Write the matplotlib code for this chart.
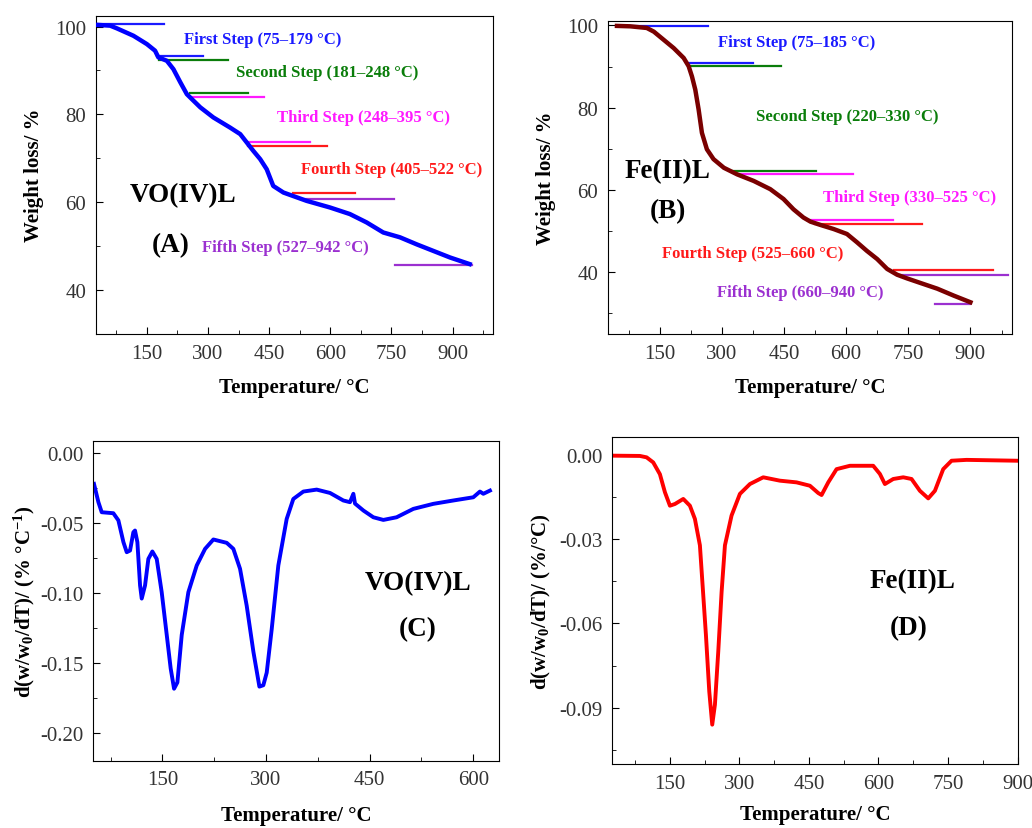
import matplotlib
matplotlib.use("Agg")
import matplotlib.pyplot as plt
from matplotlib.ticker import MultipleLocator, FormatStrFormatter

plt.rcParams['font.family'] = ['Liberation Serif', 'DejaVu Serif']
plt.rcParams['mathtext.default'] = 'regular'

# ---- data ----
# (A) VO(IV)L TGA
tA = [25, 60, 76, 117, 150, 170, 178, 199, 215, 232, 248, 260, 281, 313, 354, 379, 395,
      411, 428, 444, 460, 485, 509, 542, 599, 648, 689, 730, 771, 812, 853, 894, 942]
wA = [100.4, 100.2, 99.6, 97.9, 96.0, 94.5, 93.0, 92.2, 90.3, 87.3, 84.6, 83.5, 81.6, 79.3,
      77.0, 75.5, 73.6, 71.7, 69.8, 67.5, 63.7, 62.2, 61.4, 60.3, 58.8, 57.3, 55.4, 53.1,
      52.0, 50.4, 48.9, 47.4, 45.9]
# step marker lines: (x0, x1, y, colour index)
stepsA = [(25, 192, 100.6, 0), (175, 287, 93.2, 0),
          (179, 348, 92.4, 1), (256, 398, 84.9, 1),
          (256, 438, 83.9, 2), (395, 549, 73.8, 2),
          (399, 593, 72.8, 3), (509, 661, 62.1, 3),
          (530, 757, 60.8, 4), (759, 947, 45.8, 4)]
labelsA = ["First Step (75–179 °C)", "Second Step (181–248 °C)", "Third Step (248–395 °C)",
           "Fourth Step (405–522 °C)", "Fifth Step (527–942 °C)"]
labposA = [(240, 97.2), (369, 89.6), (469, 79.5), (527, 67.5), (286, 49.7)]

# (B) Fe(II)L TGA
tB = [47, 79, 119, 136, 160, 184, 208, 220, 228, 236, 244, 252, 264, 280, 305, 337, 377,
      417, 449, 473, 497, 514, 538, 570, 602, 626, 650, 675, 699, 723, 747, 779, 820, 860, 900]
wB = [99.9, 99.8, 99.4, 98.5, 96.5, 94.5, 92.1, 90.1, 87.6, 84.4, 79.6, 73.9, 69.9, 67.5,
      65.4, 63.8, 62.2, 60.2, 57.8, 55.3, 53.3, 52.3, 51.5, 50.5, 49.3, 47.3, 45.2, 43.2,
      40.8, 39.4, 38.5, 37.4, 36.0, 34.3, 32.7]
stepsB = [(79, 267, 99.8, 0), (216, 375, 90.9, 0),
          (220, 443, 90.1, 1), (325, 528, 64.6, 1),
          (341, 617, 63.9, 2), (506, 713, 52.8, 2),
          (526, 784, 51.7, 3), (715, 954, 40.6, 3),
          (723, 990, 39.4, 4), (815, 900, 32.3, 4)]
labelsB = ["First Step (75–185 °C)", "Second Step (220–330 °C)", "Third Step (330–525 °C)",
           "Fourth Step (525–660 °C)", "Fifth Step (660–940 °C)"]
labposB = [(291, 95.9), (383, 78.0), (544, 58.2), (156, 44.6), (288, 35.2)]

# (C) VO(IV)L DTG
tC = [51, 57.4, 62.2, 79, 86.3, 93.6, 98.4, 103.2, 108, 110.4, 113.8, 117.7, 120.1, 124.9,
      129.7, 135.5, 141.8, 149, 156.3, 162, 166.9, 171.7, 178, 187.6, 199.7, 211.8, 223.8,
      243.1, 252.7, 262.4, 272, 281.7, 290.4, 296.1, 301, 308.2, 317.8, 329.9, 339.5, 354,
      373.3, 392.6, 411.9, 421.5, 426.4, 428.8, 441, 455.3, 469.8, 489, 513.2, 542.1, 571,
      600, 609.6, 614.5, 624.1]
dC = [-0.0219, -0.035, -0.0422, -0.0429, -0.048, -0.0636, -0.0708, -0.0696, -0.0565, -0.0553,
      -0.0636, -0.0946, -0.104, -0.0946, -0.0756, -0.0703, -0.0756, -0.0994, -0.130, -0.154,
      -0.1685, -0.164, -0.130, -0.0994, -0.0803, -0.0684, -0.0617, -0.0641, -0.0684, -0.0827,
      -0.109, -0.142, -0.167, -0.166, -0.157, -0.126, -0.0803, -0.047, -0.0327, -0.0274,
      -0.026, -0.0284, -0.0338, -0.035, -0.029, -0.036, -0.041, -0.0458, -0.0477, -0.0458,
      -0.0398, -0.0362, -0.0338, -0.0315, -0.0274, -0.029, -0.0267]

# (D) Fe(II)L DTG
tD = [25.6, 85.3, 99.7, 114, 128.4, 139.2, 150, 160.8, 178.8, 193.1, 203.9, 214.7, 220.5,
      227.7, 234.9, 241.3, 247.1, 254.3, 261.5, 268.7, 283, 301, 322.6, 351.3, 387.3, 423.2,
      452, 470, 477.2, 491.6, 509.5, 538.3, 588.6, 603, 613.8, 631.8, 653.4, 671.3, 689.3,
      707.3, 721.7, 739.6, 757.6, 790, 897.5]
dD = [-0.0003, -0.0004, -0.0009, -0.0027, -0.0069, -0.0133, -0.0181, -0.0175, -0.0157,
      -0.0181, -0.0228, -0.0322, -0.0464, -0.0641, -0.0842, -0.096, -0.0889, -0.070, -0.0488,
      -0.0322, -0.0216, -0.0139, -0.0104, -0.008, -0.0092, -0.0098, -0.011, -0.0136, -0.0143,
      -0.0098, -0.0051, -0.0039, -0.0039, -0.0068, -0.0104, -0.0086, -0.008, -0.0086,
      -0.0128, -0.0155, -0.0128, -0.0051, -0.0021, -0.0018, -0.0021]

step_colors = ['#1a1aff', '#0a7d0a', '#ff1aff', '#ff1a1a', '#9b30d0']

fig = plt.figure(figsize=(10.32, 8.29), dpi=100)
axA = fig.add_axes([0.093, 0.596, 0.385, 0.384])
axB = fig.add_axes([0.589, 0.596, 0.3915, 0.377])
axC = fig.add_axes([0.0904, 0.0812, 0.393, 0.386])
axD = fig.add_axes([0.593, 0.0772, 0.393, 0.395])

def style(ax, xmaj, ymaj, xpad=10):
    ax.xaxis.set_major_locator(MultipleLocator(xmaj))
    ax.xaxis.set_minor_locator(MultipleLocator(xmaj / 2))
    ax.yaxis.set_major_locator(MultipleLocator(ymaj))
    ax.yaxis.set_minor_locator(MultipleLocator(ymaj / 2))
    ax.tick_params(which='both', direction='in', top=False, right=False, colors='black',
                   labelcolor='#333333', labelsize=15, pad=7)
    ax.tick_params(which='major', length=5)
    ax.tick_params(which='minor', length=3)
    ax.set_xlabel("Temperature/ °C", fontsize=15, fontweight='bold', labelpad=xpad)

# A
axA.plot(tA, wA, color='#0000ff', lw=3.2, zorder=3)
for x0, x1, y, c in stepsA:
    axA.plot([x0, x1], [y, y], color=step_colors[c], lw=1.6, zorder=2)
for (x, y), s, c in zip(labposA, labelsA, step_colors):
    axA.text(x, y, s, color=c, fontsize=12, fontweight='bold', va='center')
axA.text(238, 61.8, "VO(IV)L", fontsize=19.5, fontweight='bold', ha='center', va='center')
axA.text(209, 50.3, "(A)", fontsize=19.5, fontweight='bold', ha='center', va='center')
axA.set_xlim(25, 1000)
axA.set_ylim(30, 102.5)
style(axA, 150, 20)
axA.set_ylabel("Weight loss/ %", fontsize=15, fontweight='bold', labelpad=8)

# B
axB.plot(tB, wB, color='#7a0000', lw=3.2, zorder=3)
for x0, x1, y, c in stepsB:
    axB.plot([x0, x1], [y, y], color=step_colors[c], lw=1.6, zorder=2)
for (x, y), s, c in zip(labposB, labelsB, step_colors):
    axB.text(x, y, s, color=c, fontsize=12, fontweight='bold', va='center')
axB.text(169, 64.6, "Fe(II)L", fontsize=19.5, fontweight='bold', ha='center', va='center')
axB.text(170, 54.9, "(B)", fontsize=19.5, fontweight='bold', ha='center', va='center')
axB.set_xlim(25, 1000)
axB.set_ylim(25, 101)
style(axB, 150, 20)
axB.set_ylabel("Weight loss/ %", fontsize=15, fontweight='bold', labelpad=8)

# C
axC.plot(tC, dC, color='#0000ff', lw=2.8)
axC.text(520, -0.0923, "VO(IV)L", fontsize=19.5, fontweight='bold', ha='center', va='center')
axC.text(520, -0.1256, "(C)", fontsize=19.5, fontweight='bold', ha='center', va='center')
axC.set_xlim(50, 637)
axC.set_ylim(-0.22, 0.009)
style(axC, 150, 0.05, xpad=11)
axC.yaxis.set_major_formatter(FormatStrFormatter('%.2f'))
axC.set_ylabel("d(w/w$_0$/dT)/ (% °C$^{-1}$)", fontsize=15, fontweight='bold', labelpad=2)

# D
axD.plot(tD, dD, color='#ff0000', lw=2.8)
axD.text(673, -0.0449, "Fe(II)L", fontsize=19.5, fontweight='bold', ha='center', va='center')
axD.text(666, -0.0614, "(D)", fontsize=19.5, fontweight='bold', ha='center', va='center')
axD.set_xlim(25, 900)
axD.set_ylim(-0.11, 0.0065)
style(axD, 150, 0.03, xpad=8)
axD.yaxis.set_major_formatter(FormatStrFormatter('%.2f'))
axD.set_ylabel("d(w/w$_0$/dT)/ (%/°C)", fontsize=15, fontweight='bold', labelpad=4)

fig.savefig("out.png", dpi=100)
